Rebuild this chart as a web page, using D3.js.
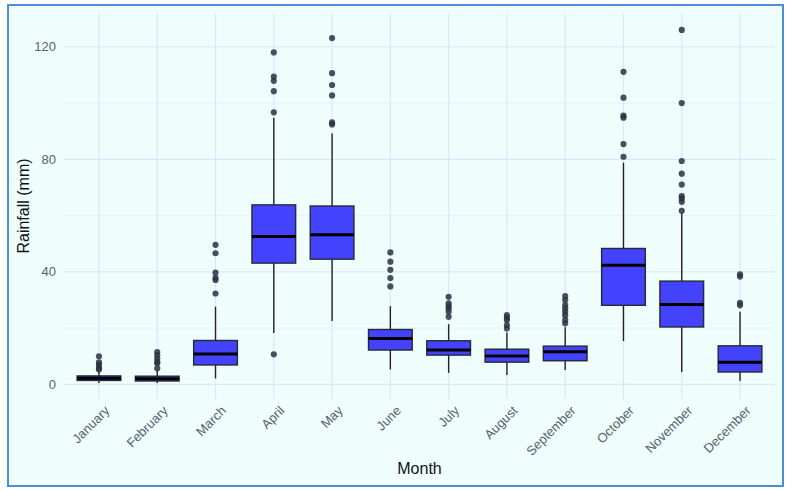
<!DOCTYPE html>
<html>
<head>
<meta charset="utf-8">
<script src="https://cdn.jsdelivr.net/npm/d3@7"></script>
<style>
  body { margin: 0; background: #fff; }
  svg { display: block; font-family: "Liberation Sans", Arial, sans-serif; }
</style>
</head>
<body>
<svg id="chart" width="793" height="490"></svg>
<script>
// box statistics (mm)
const months = ["January", "February", "March", "April", "May", "June",
                "July", "August", "September", "October", "November", "December"];
const lowerWhisker = [0.5, 0.5, 2.1, 18.3, 22.5, 5.3, 4.1, 3.3, 5.1, 15.4, 4.4, 1.2];
const q1 = [1.4, 1.2, 6.9, 43.1, 44.5, 12.2, 10.4, 7.9, 8.4, 28.1, 20.4, 4.4];
const medians = [2.2, 2.0, 10.8, 52.6, 53.2, 16.3, 12.2, 10.1, 11.6, 42.3, 28.4, 7.9];
const q3 = [3.0, 2.9, 15.6, 63.8, 63.4, 19.5, 15.5, 12.5, 13.6, 48.3, 36.7, 13.7];
const upperWhisker = [4.6, 5.0, 27.6, 94.8, 89.2, 27.8, 21.4, 18.4, 20.3, 78.8, 60.8, 25.8];
const outliers = [
  [10.0, 7.8, 6.9, 5.8, 5.3],
  [11.5, 10.4, 9.2, 8.0, 7.5, 5.7],
  [49.6, 46.6, 39.7, 37.9, 37.1, 32.3],
  [118.0, 109.4, 107.9, 104.2, 96.7, 10.7],
  [123.1, 110.6, 106.4, 102.7, 93.1, 92.4],
  [46.9, 43.6, 40.7, 37.8, 34.8],
  [31.1, 28.8, 27.8, 27.0, 25.8, 24.0],
  [24.6, 23.7, 22.9, 21.1, 19.9],
  [31.4, 30.0, 28.2, 27.0, 25.8, 24.6, 22.9, 21.7],
  [111.1, 101.9, 95.5, 94.8, 85.4, 80.9],
  [126.0, 100.0, 79.4, 74.9, 71.0, 66.9, 66.1, 64.9, 61.7],
  [39.1, 38.3, 29.0, 28.1]
];
const yTicks = [0, 40, 80, 120];
const yMinor = [20, 60, 100];

const svg = d3.select("#chart");
const plotL = 64, plotR = 775, plotT = 13, plotB = 399;

// panel background + border
svg.append("rect")
    .attr("x", 8).attr("y", 5)
    .attr("width", 775).attr("height", 481)
    .attr("fill", "#effefd")
    .attr("stroke", "#4a90d2")
    .attr("stroke-width", 2);

const x = d3.scalePoint().domain(months).range([plotL, plotR]).padding(0.6);
const y = d3.scaleLinear().domain([-5.2, 132]).range([plotB, plotT]);
const boxW = x.step() * 0.75;

const stats = months.map((m, i) => ({
  month: m, lo: lowerWhisker[i], q1: q1[i], med: medians[i],
  q3: q3[i], hi: upperWhisker[i], out: outliers[i]
}));

// grid
const grid = svg.append("g");
grid.selectAll(".minor").data(yMinor).join("line")
    .attr("x1", plotL).attr("x2", plotR)
    .attr("y1", d => y(d)).attr("y2", d => y(d))
    .attr("stroke", "#e2ecfa").attr("stroke-width", 0.8);
grid.selectAll(".major").data(yTicks).join("line")
    .attr("x1", plotL).attr("x2", plotR)
    .attr("y1", d => y(d)).attr("y2", d => y(d))
    .attr("stroke", "#dbe6fa").attr("stroke-width", 1.2);
grid.selectAll(".vert").data(months).join("line")
    .attr("x1", d => x(d)).attr("x2", d => x(d))
    .attr("y1", plotT).attr("y2", plotB)
    .attr("stroke", "#dbe6fa").attr("stroke-width", 1.2);

// y tick labels
svg.append("g").selectAll("text").data(yTicks).join("text")
    .attr("x", plotL - 8).attr("y", d => y(d))
    .attr("dy", "0.35em")
    .attr("text-anchor", "end")
    .attr("font-size", 13)
    .attr("fill", "#56616f")
    .text(d => d);

// x tick labels
svg.append("g").selectAll("text").data(months).join("text")
    .attr("transform", d => `translate(${x(d) + 5},${plotB + 6}) rotate(-45)`)
    .attr("text-anchor", "end")
    .attr("dy", "0.7em")
    .attr("font-size", 13)
    .attr("fill", "#56616f")
    .text(d => d);

// boxes
const boxes = svg.append("g").selectAll("g").data(stats).join("g");

boxes.append("line")
    .attr("x1", d => x(d.month)).attr("x2", d => x(d.month))
    .attr("y1", d => y(d.q3)).attr("y2", d => y(d.hi))
    .attr("stroke", "#222").attr("stroke-width", 1.4);
boxes.append("line")
    .attr("x1", d => x(d.month)).attr("x2", d => x(d.month))
    .attr("y1", d => y(d.q1)).attr("y2", d => y(d.lo))
    .attr("stroke", "#222").attr("stroke-width", 1.4);
boxes.append("rect")
    .attr("x", d => x(d.month) - boxW / 2)
    .attr("width", boxW)
    .attr("y", d => y(d.q3))
    .attr("height", d => y(d.q1) - y(d.q3))
    .attr("fill", "#4343fd")
    .attr("stroke", "#262a33")
    .attr("stroke-width", 1.4);
boxes.append("line")
    .attr("x1", d => x(d.month) - boxW / 2).attr("x2", d => x(d.month) + boxW / 2)
    .attr("y1", d => y(d.med)).attr("y2", d => y(d.med))
    .attr("stroke", "#000").attr("stroke-width", 3);

boxes.selectAll("circle").data(d => d.out.map(v => ({month: d.month, v}))).join("circle")
    .attr("cx", d => x(d.month))
    .attr("cy", d => y(d.v))
    .attr("r", 3.1)
    .attr("fill", "#2a3142")
    .attr("fill-opacity", 0.85);

// axis titles
svg.append("text")
    .attr("x", (plotL + plotR) / 2).attr("y", 474)
    .attr("text-anchor", "middle")
    .attr("font-size", 16)
    .attr("fill", "#111")
    .text("Month");
svg.append("text")
    .attr("transform", `translate(29,${(plotT + plotB) / 2}) rotate(-90)`)
    .attr("text-anchor", "middle")
    .attr("font-size", 16)
    .attr("fill", "#111")
    .text("Rainfall (mm)");
</script>
</body>
</html>
